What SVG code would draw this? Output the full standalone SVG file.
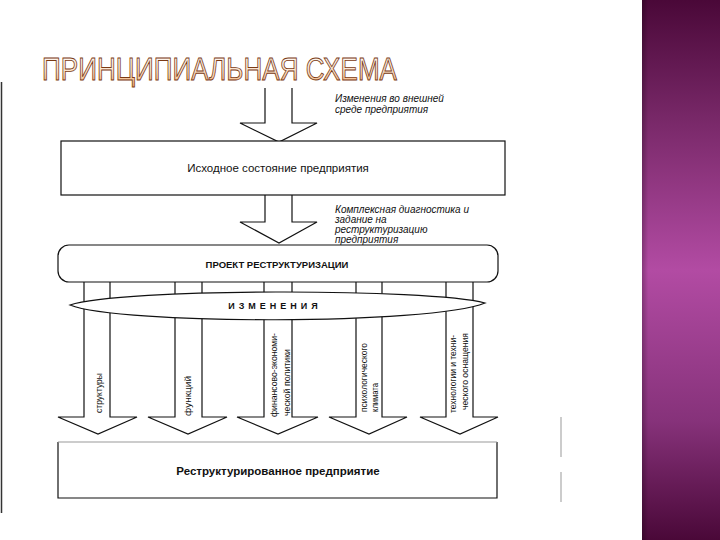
<svg xmlns="http://www.w3.org/2000/svg" width="720" height="540" viewBox="0 0 720 540">
<defs>
<linearGradient id="band" x1="0" y1="0" x2="0" y2="1">
<stop offset="0" stop-color="#4a0838"/>
<stop offset="0.22" stop-color="#782868"/>
<stop offset="0.5" stop-color="#b24ba3"/>
<stop offset="0.78" stop-color="#86327a"/>
<stop offset="1" stop-color="#4a0838"/>
</linearGradient>
<linearGradient id="bandEdge" x1="0" y1="0" x2="1" y2="0">
<stop offset="0" stop-color="#000" stop-opacity="0.25"/>
<stop offset="0.08" stop-color="#000" stop-opacity="0"/>
<stop offset="1" stop-color="#000" stop-opacity="0"/>
</linearGradient>
<linearGradient id="titleFill" x1="0" y1="0" x2="0" y2="1">
<stop offset="0" stop-color="#ffffff"/>
<stop offset="0.55" stop-color="#fbe3cc"/>
<stop offset="1" stop-color="#f0a868"/>
</linearGradient>
<style>
.ln{fill:#fff;stroke:#111;stroke-width:1.2}
.arr{fill:#fff;stroke:#111;stroke-width:1.2;stroke-linejoin:miter}
.t{font-family:"Liberation Sans",Arial,sans-serif;fill:#111}
.note{font-family:"Liberation Sans",Arial,sans-serif;font-style:italic;font-size:10px;fill:#111}
.col{font-family:"Liberation Sans",Arial,sans-serif;font-size:8.5px;fill:#111}
</style>
</defs>
<rect width="720" height="540" fill="#fff"/>
<rect x="642" y="0" width="78" height="540" fill="url(#band)"/>
<rect x="642" y="0" width="78" height="540" fill="url(#bandEdge)"/>
<text x="42" y="80" font-family="'Liberation Sans',Arial,sans-serif" font-size="31" textLength="355" lengthAdjust="spacingAndGlyphs" fill="url(#titleFill)" stroke="#7a3a14" stroke-width="0.9">ПРИНЦИПИАЛЬНАЯ СХЕМА</text>
<line x1="1.5" y1="82" x2="1.5" y2="513" stroke="#333" stroke-width="1.5"/>
<line x1="561" y1="417" x2="561" y2="457" stroke="#999" stroke-width="1"/>
<line x1="561" y1="472" x2="561" y2="502" stroke="#999" stroke-width="1"/>
<g id="connectors">
<path class="arr" d="M265,88 L265,123 L240,123 L279,142 L317,123 L292,123 L292,88"/>
<path class="arr" d="M265,195 L265,222 L240,222 L279,243 L317,222 L292,222 L292,195"/>
<path class="arr" d="M84,282 L84,417 L58,417 L98,434 L137,417 L110,417 L110,282"/>
<path class="arr" d="M175,282 L175,417 L148,417 L188,434 L227,417 L202,417 L202,282"/>
<path class="arr" d="M264,282 L264,417 L237,417 L278,434 L318,417 L292,417 L292,282"/>
<path class="arr" d="M356,282 L356,417 L329,417 L369,434 L407,417 L382,417 L382,282"/>
<path class="arr" d="M446,282 L446,417 L420,417 L460,434 L498,417 L473,417 L473,282"/>
</g>
<g id="note-external">
<text class="note" x="335" y="102">Изменения во внешней</text>
<text class="note" x="335" y="113">среде предприятия</text>
</g>
<g id="note-diagnostics">
<text class="note" x="335" y="213">Комплексная диагностика и</text>
<text class="note" x="335" y="223">задание на</text>
<text class="note" x="335" y="233">реструктуризацию</text>
<text class="note" x="335" y="243">предприятия</text>
</g>
<g id="initial-state">
<rect class="ln" x="61" y="141" width="444" height="54"/>
<text class="t" x="278" y="172" font-size="11.5" text-anchor="middle">Исходное состояние предприятия</text>
</g>
<g id="project">
<rect class="ln" x="58" y="245" width="440" height="37" rx="11"/>
<text class="t" x="277" y="268" font-size="9.5" font-weight="bold" text-anchor="middle">ПРОЕКТ РЕСТРУКТУРИЗАЦИИ</text>
</g>
<g id="changes">
<path class="ln" d="M70,305 C120,288 430,288 485,303 C430,325 120,325 70,305 Z"/>
<text class="t" x="275" y="309" font-size="9" font-weight="bold" text-anchor="middle" letter-spacing="4">ИЗМЕНЕНИЯ</text>
</g>
<g id="col-labels">
<text class="col" transform="translate(102,413) rotate(-90)" textLength="40" lengthAdjust="spacingAndGlyphs">структуры</text>
<text class="col" transform="translate(191,416) rotate(-90)" textLength="40" lengthAdjust="spacingAndGlyphs">функций</text>
<text class="col" transform="translate(277,417) rotate(-90)" textLength="84" lengthAdjust="spacingAndGlyphs">финансово-экономи-</text>
<text class="col" transform="translate(290,416) rotate(-90)" textLength="67" lengthAdjust="spacingAndGlyphs">ческой политики</text>
<text class="col" transform="translate(367,412) rotate(-90)" textLength="69" lengthAdjust="spacingAndGlyphs">психологического</text>
<text class="col" transform="translate(378,412) rotate(-90)" textLength="29" lengthAdjust="spacingAndGlyphs">климата</text>
<text class="col" transform="translate(456,413) rotate(-90)" textLength="78" lengthAdjust="spacingAndGlyphs">технологии и техни-</text>
<text class="col" transform="translate(468,410) rotate(-90)" textLength="77" lengthAdjust="spacingAndGlyphs">ческого оснащения</text>
</g>
<g id="restructured">
<path d="M58,442 L58,498 L497,498 L497,442" fill="#fff" stroke="#111" stroke-width="1.2"/>
<line x1="58" y1="442" x2="497" y2="442" stroke="#999" stroke-width="1"/>
<text class="t" x="278" y="475" font-size="11.5" font-weight="bold" text-anchor="middle">Реструктурированное предприятие</text>
</g>
</svg>
